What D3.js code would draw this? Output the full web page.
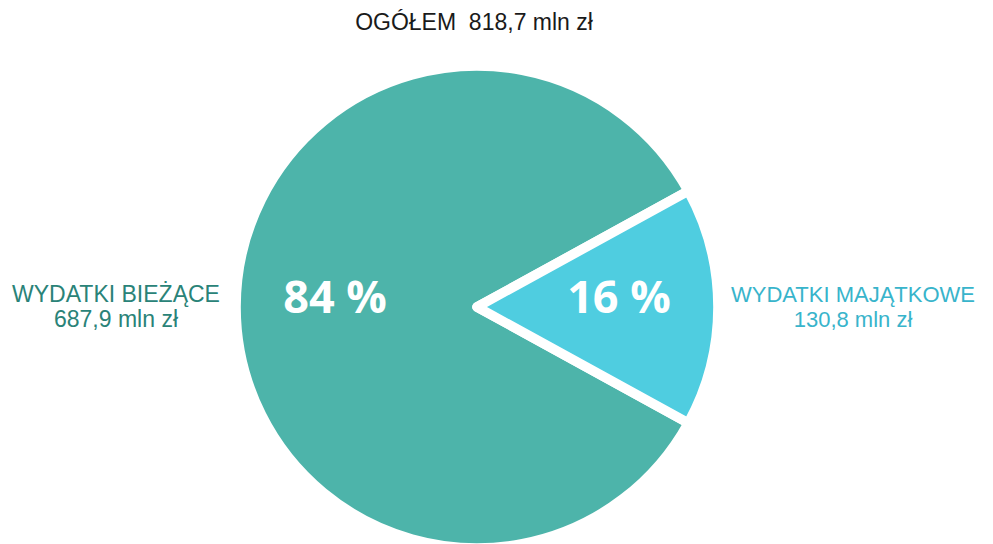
<!DOCTYPE html>
<html>
<head>
<meta charset="utf-8">
<script src="https://cdn.jsdelivr.net/npm/d3@7"></script>
<style>
    body { margin: 0; background: #fff; }
    svg { display: block; }
</style>
</head>
<body>
<div id="root"></div>
<script>
// chart data
const categories = ['WYDATKI BIEŻĄCE', 'WYDATKI MAJĄTKOWE'];
const values = [687.9, 130.8];
const valueLabels = ['687,9 mln zł', '130,8 mln zł'];
const percentLabels = ['84 %', '16 %'];
const totalLabel = 'OGÓŁEM  818,7 mln zł';

const sliceColors = ['#4db4aa', '#4fcde0'];
const textColors = ['#2a8378', '#38b4cb'];

let width = 993,
    height = 544,
    cx = 477,
    cy = 307,
    radius = 241;

let svg = d3.select('#root')
    .append('svg')
    .attr('width', width)
    .attr('height', height);

// put the smaller slice centred on the right side (pi/2)
let total = d3.sum(values),
    smallShare = values[1] / total,
    startAngle = Math.PI / 2 + 2 * Math.PI - 2 * Math.PI * (1 - smallShare / 2);

let pie = d3.pie()
    .sort(null)
    .value((d) => d)
    .startAngle(startAngle)
    .endAngle(startAngle + 2 * Math.PI);

let arcs = pie(values);

let arc = d3.arc().innerRadius(0).outerRadius(radius);
let labelArc = d3.arc().innerRadius(142).outerRadius(142);

let pieGroup = svg.append('g')
    .attr('transform', 'translate(' + cx + ',' + cy + ')');

pieGroup.selectAll('.slice')
    .data(arcs)
    .enter()
    .append('path')
    .attr('class', 'slice')
    .attr('d', arc)
    .attr('fill', (d, i) => sliceColors[i])
    .attr('stroke', '#fff')
    .attr('stroke-width', 9.6)
    .attr('stroke-linejoin', 'round');

pieGroup.selectAll('.pct')
    .data(arcs)
    .enter()
    .append('text')
    .attr('class', 'pct')
    .attr('x', (d) => labelArc.centroid(d)[0])
    .attr('y', (d) => labelArc.centroid(d)[1] + 6)
    .attr('text-anchor', 'middle')
    .attr('font-family', '"Open Sans", sans-serif')
    .attr('font-weight', 'bold')
    .attr('font-size', 45)
    .attr('fill', '#fff')
    .text((d, i) => percentLabels[i]);

// title
svg.append('text')
    .attr('x', 474)
    .attr('y', 30)
    .attr('text-anchor', 'middle')
    .attr('font-family', '"Liberation Sans", Arial, sans-serif')
    .attr('font-size', 23)
    .attr('fill', '#1a1a1a')
    .style('white-space', 'pre')
    .text(totalLabel);

// side labels
let sideX = [116, 853],
    sideSize = [23, 22];

let side = svg.selectAll('.side')
    .data(categories)
    .enter()
    .append('text')
    .attr('class', 'side')
    .attr('text-anchor', 'middle')
    .attr('font-family', '"Liberation Sans", Arial, sans-serif')
    .attr('font-size', (d, i) => sideSize[i])
    .attr('fill', (d, i) => textColors[i]);

side.append('tspan')
    .attr('x', (d, i) => sideX[i])
    .attr('y', 302)
    .text((d) => d);

side.append('tspan')
    .attr('x', (d, i) => sideX[i])
    .attr('y', 327)
    .text((d, i) => valueLabels[i]);
</script>
</body>
</html>
